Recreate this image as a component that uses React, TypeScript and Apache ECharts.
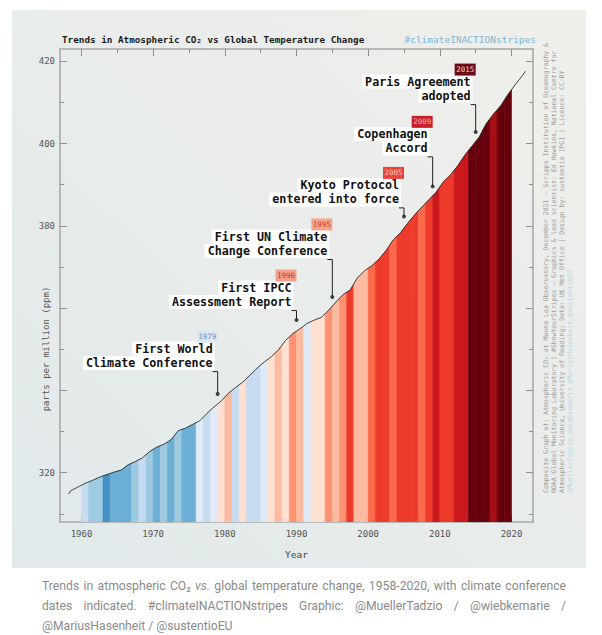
import React, { useEffect, useRef } from "react";
import * as echarts from "echarts";

// ---------- data ----------
const co2Years = [1958.2, 1958.5, 1959.5, 1960.5, 1961.5, 1962.5, 1963.5, 1964.5, 1965.5, 1966.5, 1967.5, 1968.5, 1969.5, 1970.5, 1971.5, 1972.5, 1973.5, 1974.5, 1975.5, 1976.5, 1977.5, 1978.5, 1979.5, 1980.5, 1981.5, 1982.5, 1983.5, 1984.5, 1985.5, 1986.5, 1987.5, 1988.5, 1989.5, 1990.5, 1991.5, 1992.5, 1993.5, 1994.5, 1995.5, 1996.5, 1997.5, 1998.5, 1999.5, 2000.5, 2001.5, 2002.5, 2003.5, 2004.5, 2005.5, 2006.5, 2007.5, 2008.5, 2009.5, 2010.5, 2011.5, 2012.5, 2013.5, 2014.5, 2015.5, 2016.5, 2017.5, 2018.5, 2019.5, 2020.5, 2021.5, 2021.95];
const co2Ppm = [314.8, 315.6, 316.5, 317.4, 318.1, 318.9, 319.5, 320.1, 320.6, 321.9, 322.7, 323.6, 325.1, 326.2, 326.9, 328.0, 330.2, 330.8, 331.7, 332.6, 334.4, 336.0, 337.4, 339.3, 340.7, 342.0, 343.7, 345.4, 346.9, 348.2, 349.9, 352.2, 353.8, 355.0, 356.3, 357.1, 357.8, 359.5, 361.5, 363.3, 364.4, 367.4, 369.1, 370.3, 371.9, 374.0, 376.6, 378.3, 380.6, 382.7, 384.6, 386.4, 388.2, 390.7, 392.4, 394.6, 397.2, 399.4, 401.6, 404.9, 407.2, 409.2, 411.9, 414.3, 416.5, 417.6];

const stripeYears = [1960, 1961, 1962, 1963, 1964, 1965, 1966, 1967, 1968, 1969, 1970, 1971, 1972, 1973, 1974, 1975, 1976, 1977, 1978, 1979, 1980, 1981, 1982, 1983, 1984, 1985, 1986, 1987, 1988, 1989, 1990, 1991, 1992, 1993, 1994, 1995, 1996, 1997, 1998, 1999, 2000, 2001, 2002, 2003, 2004, 2005, 2006, 2007, 2008, 2009, 2010, 2011, 2012, 2013, 2014, 2015, 2016, 2017, 2018, 2019];
const stripeColors = [
  "#c6dbef", "#9ecae1", "#9ecae1", "#4292c6", "#6baed6", "#6baed6", "#6baed6", "#9ecae1", "#c6dbef", "#9ecae1",
  "#6baed6", "#9ecae1", "#6baed6", "#9ecae1", "#6baed6", "#6baed6", "#deebf7", "#c6dbef", "#deebf7", "#fee0d2",
  "#fcbba1", "#c6dbef", "#fee0d2", "#c6dbef", "#c6dbef", "#deebf7", "#fee0d2", "#fcbba1", "#fee0d2", "#fc9272",
  "#fcbba1", "#deebf7", "#fee0d2", "#fee0d2", "#fc9272", "#fcbba1", "#fc9272", "#ef3b2c", "#fcbba1", "#fcbba1",
  "#fb6a4a", "#ef3b2c", "#ef3b2c", "#fb6a4a", "#ef3b2c", "#ef3b2c", "#ef3b2c", "#fb6a4a", "#ef3b2c", "#cb181d",
  "#ef3b2c", "#ef3b2c", "#cb181d", "#cb181d", "#67000d", "#67000d", "#67000d", "#a50f15", "#67000d", "#67000d",
];

const majorYearTicks = [1960, 1970, 1980, 1990, 2000, 2010, 2020];
const minorYearTicks = [1965, 1975, 1985, 1995, 2005, 2015];
const majorPpmTicks = [320, 340, 360, 380, 400, 420];
const minorPpmTicks = [310, 330, 350, 370, 390, 410];
const ppmLabels = [320, 380, 400, 420];

const eventYears = [1979, 1990, 1995, 2005, 2009, 2015];
const eventDotPpm = [339.1, 357.1, 362.7, 382.3, 389.6, 402.8];
const eventLines = [
  ["First World", "Climate Conference"],
  ["First IPCC", "Assessment Report"],
  ["First UN Climate", "Change Conference"],
  ["Kyoto Protocol", "entered into force"],
  ["Copenhagen", "Accord"],
  ["Paris Agreement", "adopted"],
];
const eventBoxColors = ["#dbe8f4", "#f3a08a", "#f5a48a", "#e8463a", "#c8202a", "#6a0a14"];
const eventBoxTextColors = ["#6d8fb8", "#b8383a", "#c0453a", "#f7c2b6", "#f2b0ae", "#f0d4d4"];
const eventLeader = [31, 18, 46, 17, 38, 36];

const creditLines = [
  "Composite Graph of: Atmospheric CO\u2082 at Mauna Loa Observatory, December 2021 \u2013 Scripps Institution of Oceanography &",
  "NOAA Global Monitoring Laboratory | #ShowYourStripes \u2013 Graphics & lead scientist: Ed Hawkins, National Centre for",
  "Atmospheric Science, University of Reading; Data: UK Met Office | Design by: sustentio [PG] | Licence: CC-BY",
  "@MuellerTadzio @wiebkemarie @MariusHasenheit @sustentioEU",
];

const captionLines = [
  ["Trends", "in", "atmospheric", "CO\u2082", "vs.", "global", "temperature", "change,", "1958-2020,", "with", "climate", "conference"],
  ["dates", "indicated.", "#climateINACTIONstripes", "Graphic:", "@MuellerTadzio", "/", "@wiebkemarie", "/"],
  ["@MariusHasenheit", "/", "@sustentioEU"],
];

// ---------- layout constants ----------
const X_MIN = 1957;
const X_MAX = 2023;
const Y_MIN = 308;
const Y_MAX = 423;
const MONO = "DejaVu Sans Mono";
const AXIS_COLOR = "#a6a6a6";
const CAPTION_FONT_SIZE = 12.2;

function co2At(x: number): number {
  for (let k = 0; k < co2Years.length - 1; k++) {
    if (x >= co2Years[k] && x <= co2Years[k + 1]) {
      const t = (x - co2Years[k]) / (co2Years[k + 1] - co2Years[k]);
      return co2Ppm[k] + t * (co2Ppm[k + 1] - co2Ppm[k]);
    }
  }
  return co2Ppm[co2Ppm.length - 1];
}

function makeXAxis(position: "top" | "bottom", ticks: number[], len: number, labels: boolean, line: boolean) {
  return {
    type: "value",
    position,
    min: X_MIN,
    max: X_MAX,
    axisLine: { show: line, onZero: false, lineStyle: { color: AXIS_COLOR, width: 1.5 } },
    axisTick: { show: true, inside: true, length: len, customValues: ticks, lineStyle: { color: "#8f8f8f", width: 1 } },
    axisLabel: labels
      ? { show: true, customValues: ticks, margin: 7, color: "#555", fontFamily: MONO, fontSize: 9, formatter: (v: number) => String(v) }
      : { show: false },
    splitLine: { show: false },
    ...(labels
      ? { name: "Year", nameLocation: "middle", nameGap: 27, nameTextStyle: { color: "#444", fontFamily: MONO, fontSize: 9.5 } }
      : {}),
  };
}

function makeYAxis(position: "left" | "right", ticks: number[], len: number, labels: boolean, line: boolean) {
  return {
    type: "value",
    position,
    min: Y_MIN,
    max: Y_MAX,
    axisLine: { show: line, onZero: false, lineStyle: { color: AXIS_COLOR, width: 1.5 } },
    axisTick: { show: true, inside: true, length: len, customValues: ticks, lineStyle: { color: "#8f8f8f", width: 1 } },
    axisLabel: labels
      ? { show: true, customValues: ppmLabels, margin: 5, color: "#555", fontFamily: MONO, fontSize: 9, formatter: (v: number) => String(v) }
      : { show: false },
    splitLine: { show: false },
  };
}

let measureCtx: CanvasRenderingContext2D | null = null;
function textWidth(t: string, font: string): number {
  if (!measureCtx) measureCtx = document.createElement("canvas").getContext("2d");
  if (!measureCtx) return t.length * 6;
  measureCtx.font = font;
  return measureCtx.measureText(t).width;
}

export default function App() {
  const ref = useRef<HTMLDivElement>(null);

  useEffect(() => {
    if (!ref.current) return;
    const chart = echarts.init(ref.current, undefined, { renderer: "svg" });

    const option: any = {
      animation: false,
      grid: { left: 60, top: 49, right: 69, bottom: 113, containLabel: false },
      xAxis: [
        makeXAxis("bottom", majorYearTicks, 7, true, true),
        makeXAxis("bottom", minorYearTicks, 4, false, false),
        makeXAxis("top", majorYearTicks, 7, false, true),
        makeXAxis("top", minorYearTicks, 4, false, false),
      ],
      yAxis: [
        makeYAxis("left", majorPpmTicks, 7, true, true),
        makeYAxis("left", minorPpmTicks, 4, false, false),
        makeYAxis("right", majorPpmTicks, 7, false, true),
        makeYAxis("right", minorPpmTicks, 4, false, false),
      ],
      series: [
        {
          type: "custom",
          name: "stripes",
          xAxisIndex: 0,
          yAxisIndex: 0,
          clip: true,
          z: 2,
          data: stripeYears.map((y, i) => [y, i]),
          renderItem: (params: any, api: any) => {
            const i = api.value(1);
            const y0 = stripeYears[i];
            const y1 = y0 + 1;
            const pts: number[][] = [[y0, Y_MIN], [y0, co2At(y0)]];
            for (let k = 0; k < co2Years.length; k++) {
              if (co2Years[k] > y0 && co2Years[k] < y1) pts.push([co2Years[k], co2Ppm[k]]);
            }
            pts.push([y1, co2At(y1)], [y1, Y_MIN]);
            return {
              type: "polygon",
              shape: { points: pts.map((p) => api.coord(p)) },
              style: { fill: stripeColors[i], stroke: stripeColors[i], lineWidth: 0.6 },
            };
          },
        },
        {
          type: "line",
          name: "CO2",
          xAxisIndex: 0,
          yAxisIndex: 0,
          z: 5,
          symbol: "none",
          data: co2Years.map((y, i) => [y, co2Ppm[i]]),
          lineStyle: { color: "#2e2e2e", width: 0.9 },
        },
        {
          type: "scatter",
          name: "events",
          xAxisIndex: 0,
          yAxisIndex: 0,
          z: 8,
          symbolSize: 4,
          data: eventYears.map((y, i) => [y, eventDotPpm[i]]),
          itemStyle: { color: "#1c1c1c" },
        },
      ],
    };
    chart.setOption(option);

    const graphics: any[] = [];
    // title
    graphics.push({
      type: "text", x: 62, y: 39, z: 100,
      style: { text: "Trends in Atmospheric CO\u2082 vs Global Temperature Change", fill: "#1a1a1a", font: `bold 9.3px "${MONO}"`, textAlign: "left", textVerticalAlign: "middle" },
    });
    graphics.push({
      type: "text", x: 536, y: 39, z: 100,
      style: { text: "#climateINACTIONstripes", fill: "#7fb4d6", font: `9.5px "${MONO}"`, textAlign: "right", textVerticalAlign: "middle" },
    });
    // y axis name
    graphics.push({
      type: "text", x: 46, y: 349, rotation: Math.PI / 2, z: 100,
      style: { text: "parts per million (ppm)", fill: "#555", font: `9px "${MONO}"`, textAlign: "center", textVerticalAlign: "middle" },
    });
    // credits
    const creditX = [546, 554, 562, 570];
    creditLines.forEach((t, i) => {
      graphics.push({
        type: "text", x: creditX[i], y: 493, rotation: Math.PI / 2, z: 100,
        style: { text: t, fill: i === 3 ? "#b9d7e8" : "#9c9c9c", font: `6.5px "${MONO}"`, textAlign: "left", textVerticalAlign: "middle" },
      });
    });
    // annotations
    eventYears.forEach((yr, i) => {
      const [px, py] = chart.convertToPixel({ xAxisIndex: 0, yAxisIndex: 0 }, [yr, eventDotPpm[i]]) as number[];
      const L = eventLeader[i];
      const l2 = py - L;
      const l1 = l2 - 14.5;
      const bx = l2 - 26.5;
      const ly = l2 + 8.5;
      graphics.push({
        type: "polyline", z: 95,
        shape: { points: [[px - 5, ly], [px, ly], [px, py]] },
        style: { stroke: "#222", lineWidth: 1, fill: null },
      });
      [l1, l2].forEach((yy, j) => {
        graphics.push({
          type: "text", x: px - 3, y: yy, z: 100,
          style: {
            text: eventLines[i][j], fill: "#111", font: `bold 11.7px "${MONO}"`, textAlign: "right", textVerticalAlign: "middle",
            backgroundColor: "#ffffff", padding: [1, 2, 1, 3],
          },
        });
      });
      graphics.push({
        type: "rect", z: 100,
        shape: { x: px - 21, y: bx - 6, width: 21, height: 12 },
        style: { fill: eventBoxColors[i] },
      });
      graphics.push({
        type: "text", x: px - 10.5, y: bx, z: 101,
        style: { text: String(yr), fill: eventBoxTextColors[i], font: `7.5px "${MONO}"`, textAlign: "center", textVerticalAlign: "middle" },
      });
    });
    // caption (justified)
    const capX0 = 42;
    const capX1 = 566;
    const capY = [586, 606, 626];
    captionLines.forEach((words, li) => {
      const fonts = words.map((w) => (w === "vs." ? `italic ${CAPTION_FONT_SIZE}px Roboto` : `${CAPTION_FONT_SIZE}px Roboto`));
      const widths = words.map((w, k) => textWidth(w, fonts[k]));
      const total = widths.reduce((a, b) => a + b, 0);
      const justify = li < 2;
      const gap = justify ? (capX1 - capX0 - total) / (words.length - 1) : textWidth(" ", `${CAPTION_FONT_SIZE}px Roboto`);
      let x = capX0;
      words.forEach((w, k) => {
        graphics.push({
          type: "text", x, y: capY[li], z: 100,
          style: { text: w, fill: "#8a8a8a", font: fonts[k], textAlign: "left", textVerticalAlign: "middle" },
        });
        x += widths[k] + gap;
      });
    });

    chart.setOption({ graphic: { elements: graphics } });

    return () => chart.dispose();
  }, []);

  return (
    <div style={{ position: "fixed", left: 0, top: 0, width: 602, height: 635, background: "#ffffff" }}>
      <div
        style={{
          position: "absolute", left: 12, top: 10, width: 574, height: 558,
          background: "linear-gradient(to bottom left, #f0efeb, #e1e9ea)",
        }}
      />
      <div ref={ref} style={{ position: "absolute", left: 0, top: 0, width: 602, height: 635 }} />
    </div>
  );
}
